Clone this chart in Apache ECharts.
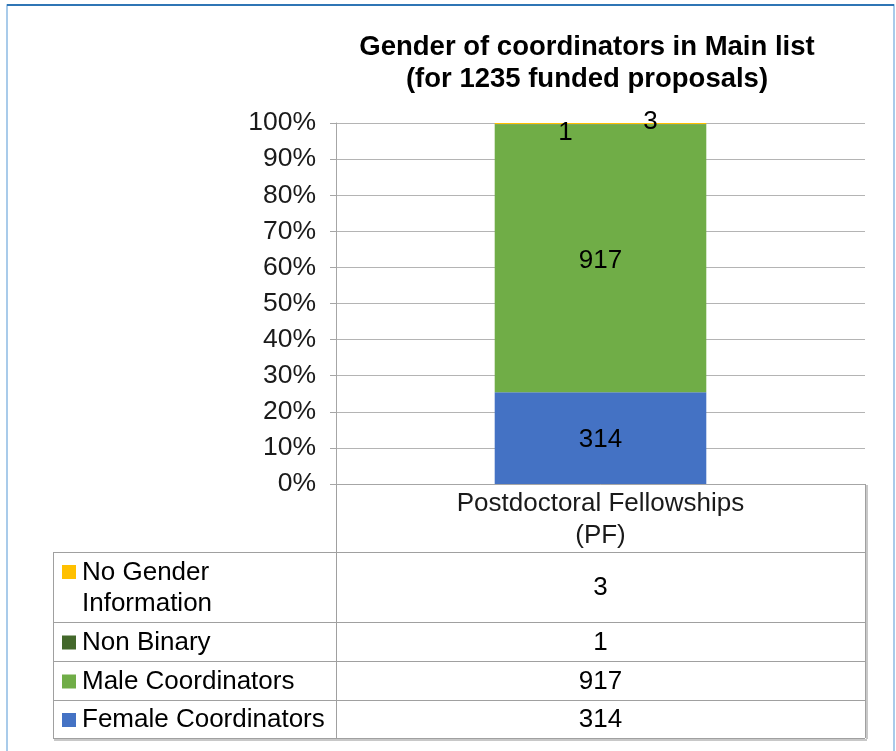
<!DOCTYPE html>
<html>
<head>
<meta charset="utf-8">
<script src="https://cdn.jsdelivr.net/npm/echarts@6/dist/echarts.min.js"></script>
<style>
html,body{margin:0;padding:0;background:#fff;}
#main{width:896px;height:751px;}
</style>
</head>
<body>
<div id="main"></div>
<script>
// data
var categories = ['Postdoctoral Fellowships\n(PF)'];
var seriesNames = ['Female Coordinators', 'Male Coordinators', 'Non Binary', 'No Gender Information'];
var tableNames = ['Female Coordinators', 'Male Coordinators', 'Non Binary', 'No Gender\nInformation'];
var female = [314];
var male = [917];
var nonBinary = [1];
var noGender = [3];
var colors = ['#4472C4', '#70AD47', '#43682B', '#FFC000'];

var FONT = 'Liberation Sans, Arial, sans-serif';
var allSeries = [female, male, nonBinary, noGender];

var totals = categories.map(function (c, i) {
    var t = 0;
    allSeries.forEach(function (s) { t += s[i]; });
    return t;
});

// label offsets so the tiny top segments do not overlap (like excel did)
var labelOffsets = [[0, 2], [0, 3], [-35, 9], [50, -2]];

var myChart = echarts.init(document.getElementById('main'));

var gridLeft = 336, gridRight = 31, gridTop = 123, gridBottom = 267;

myChart.setOption({
    animation: false,
    backgroundColor: '#fff',
    grid: {
        left: gridLeft, right: gridRight, top: gridTop, bottom: gridBottom,
        containLabel: false,
        outerBoundsMode: 'none'
    },
    xAxis: {
        type: 'category',
        data: categories,
        axisLine: { show: true, lineStyle: { color: '#a6a6a6', width: 1 } },
        axisTick: { show: false },
        axisLabel: {
            fontFamily: FONT, fontSize: 26, color: '#1a1a1a',
            lineHeight: 32, margin: 4
        },
        splitLine: { show: false }
    },
    yAxis: {
        type: 'value',
        min: 0, max: 100, interval: 10,
        axisLine: { show: true, lineStyle: { color: '#a6a6a6', width: 1 } },
        axisTick: { show: true, inside: false, length: 6, lineStyle: { color: '#a6a6a6' } },
        axisLabel: {
            formatter: '{value}%',
            fontFamily: FONT, fontSize: 26.5, color: '#1a1a1a', margin: 20
        },
        splitLine: { show: true, lineStyle: { color: '#b4b4b4', width: 1 } }
    },
    series: allSeries.map(function (arr, k) {
        return {
            name: seriesNames[k],
            type: 'bar',
            stack: 'total',
            barWidth: '40%',
            itemStyle: { color: colors[k] },
            label: {
                show: true,
                position: 'inside',
                offset: labelOffsets[k],
                fontFamily: FONT, fontSize: 26, color: '#000',
                formatter: function (p) { return p.data.raw; }
            },
            data: arr.map(function (v, i) {
                return { value: v / totals[i] * 100, raw: v };
            })
        };
    })
});

// data table under the chart (excel style), built from the same arrays
var plotLeft = gridLeft, plotRight = 896 - gridRight, axisY = 751 - gridBottom;
var tableLeft = 53;
var rowBounds = [552, 622, 661, 700, 738];
var lineColor = '#a0a0a0';

var elems = [];
function line(x1, y1, x2, y2, c, w) {
    elems.push({ type: 'line', silent: true,
        shape: { x1: x1, y1: y1, x2: x2, y2: y2 },
        style: { stroke: c || lineColor, lineWidth: w || 1 } });
}

// outer frame
elems.push({ type: 'rect', silent: true, shape: { x: 7, y: 5, width: 887, height: 800 },
    style: { fill: null, stroke: '#8dbbe3', lineWidth: 1.5 } });
line(7, 5, 894, 5, '#2f75b5', 2);

// title
elems.push({ type: 'text', silent: true, x: 587, y: 63,
    style: { text: 'Gender of coordinators in Main list\n(for 1235 funded proposals)',
        fontFamily: FONT, fontSize: 27.5, fontWeight: 'bold', fill: '#000',
        align: 'center', verticalAlign: 'middle', lineHeight: 32 } });

// table grid
line(plotLeft + 0.5, axisY, plotLeft + 0.5, rowBounds[4]);
line(plotRight + 0.5, axisY, plotRight + 0.5, rowBounds[4]);
line(plotRight + 2, axisY + 1, plotRight + 2, rowBounds[4] + 1, '#c8c8c8', 2);
line(tableLeft + 0.5, rowBounds[0], tableLeft + 0.5, rowBounds[4]);
rowBounds.forEach(function (y) { line(tableLeft, y + 0.5, plotRight, y + 0.5); });
line(tableLeft + 1, rowBounds[4] + 2, plotRight + 2, rowBounds[4] + 2, '#c8c8c8', 2);

// rows, top to bottom = reverse stack order
var order = [3, 2, 1, 0];
order.forEach(function (k, r) {
    var top = rowBounds[r], bot = rowBounds[r + 1];
    var cy = (top + bot) / 2 + 1;
    var twoLines = tableNames[k].indexOf('\n') >= 0;
    var sqY = twoLines ? cy - 23 : cy - 7;
    elems.push({ type: 'rect', silent: true, shape: { x: 62, y: sqY, width: 14, height: 14 },
        style: { fill: colors[k] } });
    elems.push({ type: 'text', silent: true, x: 82, y: cy,
        style: { text: tableNames[k], fontFamily: FONT, fontSize: 26, fill: '#000',
            align: 'left', verticalAlign: 'middle', lineHeight: 31 } });
    categories.forEach(function (c, i) {
        var cx = myChart.convertToPixel({ xAxisIndex: 0 }, i);
        elems.push({ type: 'text', silent: true, x: cx, y: cy,
            style: { text: String(allSeries[k][i]), fontFamily: FONT, fontSize: 26, fill: '#000',
                align: 'center', verticalAlign: 'middle' } });
    });
});

myChart.setOption({ graphic: { elements: elems } });
</script>
</body>
</html>
